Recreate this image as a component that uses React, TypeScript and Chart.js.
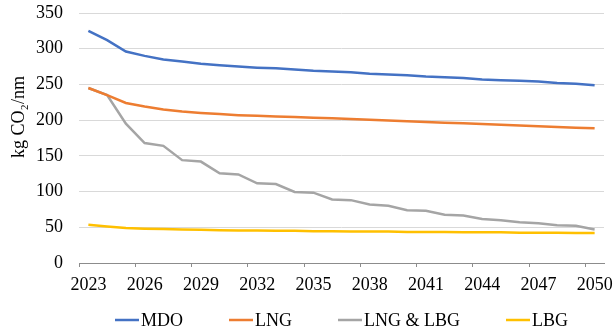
import React, { useEffect, useRef } from 'react';
import { Chart, registerables } from 'chart.js';

Chart.register(...registerables);

const years = [
  '2023', '2024', '2025', '2026', '2027', '2028', '2029', '2030', '2031', '2032',
  '2033', '2034', '2035', '2036', '2037', '2038', '2039', '2040', '2041', '2042',
  '2043', '2044', '2045', '2046', '2047', '2048', '2049', '2050',
];

const mdo = [
  325, 312, 296, 290, 285, 282, 279, 277, 275, 273.5,
  272.5, 271, 269, 268, 267, 265, 264, 263, 261, 260,
  259, 257, 256, 255, 254, 252, 251, 249,
];

const lng = [
  245, 235, 224, 219, 215, 212, 210, 208.5, 207, 206,
  205, 204.5, 203.5, 202.5, 201.5, 200.5, 199.5, 198.5, 197.5, 196.5,
  195.5, 194.5, 193.5, 192.5, 191.5, 190.5, 189.5, 188.5,
];

const lngLbg = [
  245, 235, 195, 168, 164, 144, 142, 125.5, 124, 111.5,
  110.5, 99.5, 98.5, 89, 88, 82, 80, 74, 73, 67.5,
  66.5, 61.5, 60, 57, 55.5, 53, 52, 47,
];

const lbg = [
  53.5, 51, 49, 48, 47.5, 47, 46.5, 46, 45.5, 45.5,
  45, 45, 44.5, 44.5, 44, 44, 44, 43.5, 43.5, 43.5,
  43, 43, 43, 42.5, 42.5, 42.5, 42, 42,
];

const seriesNames = ['MDO', 'LNG', 'LNG & LBG', 'LBG'];
const seriesColors = ['#4472C4', '#ED7D31', '#A5A5A5', '#FFC000'];
const yMin = 0;
const yMax = 350;
const yStep = 50;
const yTitle = 'kg CO₂/nm';
const labelEvery = 3;

const FONT = '"Liberation Serif", "Times New Roman", serif';

const overlayPlugin = {
  id: 'overlay',
  afterDraw(chart: any) {
    const ctx = chart.ctx as CanvasRenderingContext2D;
    const area = chart.chartArea;
    ctx.save();
    ctx.font = `18px ${FONT}`;
    ctx.fillStyle = '#000';

    // Y axis title
    ctx.save();
    ctx.translate(19, (area.top + area.bottom) / 2 - 21);
    ctx.rotate(-Math.PI / 2);
    ctx.textAlign = 'center';
    ctx.textBaseline = 'middle';
    ctx.fillText(yTitle, 0, 0);
    ctx.restore();

    // Legend
    const lineLen = 24;
    const gap = 2;
    const spacing = 46;
    const items = chart.data.datasets.map((ds: any) => ({
      label: ds.label as string,
      color: ds.borderColor as string,
      w: lineLen + gap + ctx.measureText(ds.label).width,
    }));
    const total =
      items.reduce((s: number, it: any) => s + it.w, 0) + spacing * (items.length - 1);
    let x = (area.left + area.right) / 2 - total / 2;
    const y = chart.height - 13;
    ctx.textAlign = 'left';
    ctx.textBaseline = 'middle';
    for (const it of items) {
      ctx.strokeStyle = it.color;
      ctx.lineWidth = 2.5;
      ctx.beginPath();
      ctx.moveTo(x, y);
      ctx.lineTo(x + lineLen, y);
      ctx.stroke();
      ctx.fillStyle = '#000';
      ctx.fillText(it.label, x + lineLen + gap, y + 1);
      x += it.w + spacing;
    }
    ctx.restore();
  },
};

export default function App() {
  const canvasRef = useRef<HTMLCanvasElement | null>(null);

  useEffect(() => {
    if (!canvasRef.current) return;
    Chart.defaults.font.family = FONT;
    const seriesData = [mdo, lng, lngLbg, lbg];
    const chart = new Chart(canvasRef.current, {
      type: 'line',
      data: {
        labels: years,
        datasets: seriesNames.map((name, i) => ({
          label: name,
          data: seriesData[i],
          borderColor: seriesColors[i],
          backgroundColor: seriesColors[i],
          borderWidth: 2.5,
          pointRadius: 0,
          tension: 0,
          fill: false,
        })),
      },
      options: {
        responsive: false,
        animation: false,
        layout: { padding: { top: 13, right: 11, left: 0, bottom: 0 } },
        plugins: {
          legend: { display: false },
          tooltip: { enabled: false },
        },
        scales: {
          x: {
            offset: true,
            grid: {
              offset: true,
              drawOnChartArea: false,
              drawTicks: true,
              tickLength: 4,
              color: (c: any) => (c.index % labelEvery === 0 ? '#8c8c8c' : 'rgba(0,0,0,0)'),
              lineWidth: 1,
            },
            border: { display: true, color: '#8c8c8c', width: 1 },
            ticks: {
              autoSkip: false,
              maxRotation: 0,
              minRotation: 0,
              padding: 7,
              color: '#000',
              font: { size: 18, family: FONT },
              callback: (_v: any, i: number) => (i % labelEvery === 0 ? years[i] : ''),
            },
            afterFit: (scale: any) => {
              scale.height = 70;
              scale.paddingLeft = 0;
              scale.paddingRight = 0;
            },
          },
          y: {
            min: yMin,
            max: yMax,
            grid: {
              color: '#d9d9d9',
              lineWidth: 1,
              drawTicks: false,
            },
            border: { display: false },
            ticks: {
              stepSize: yStep,
              padding: 16,
              color: '#000',
              font: { size: 18, family: FONT },
            },
            afterFit: (scale: any) => {
              scale.width = 79;
              scale.paddingTop = 0;
              scale.paddingBottom = 0;
            },
          },
        },
      },
      plugins: [overlayPlugin],
    });
    return () => chart.destroy();
  }, []);

  return (
    <div style={{ position: 'fixed', left: 0, top: 0, width: 615, height: 333, background: '#fff' }}>
      <canvas ref={canvasRef} width={615} height={333} />
    </div>
  );
}
